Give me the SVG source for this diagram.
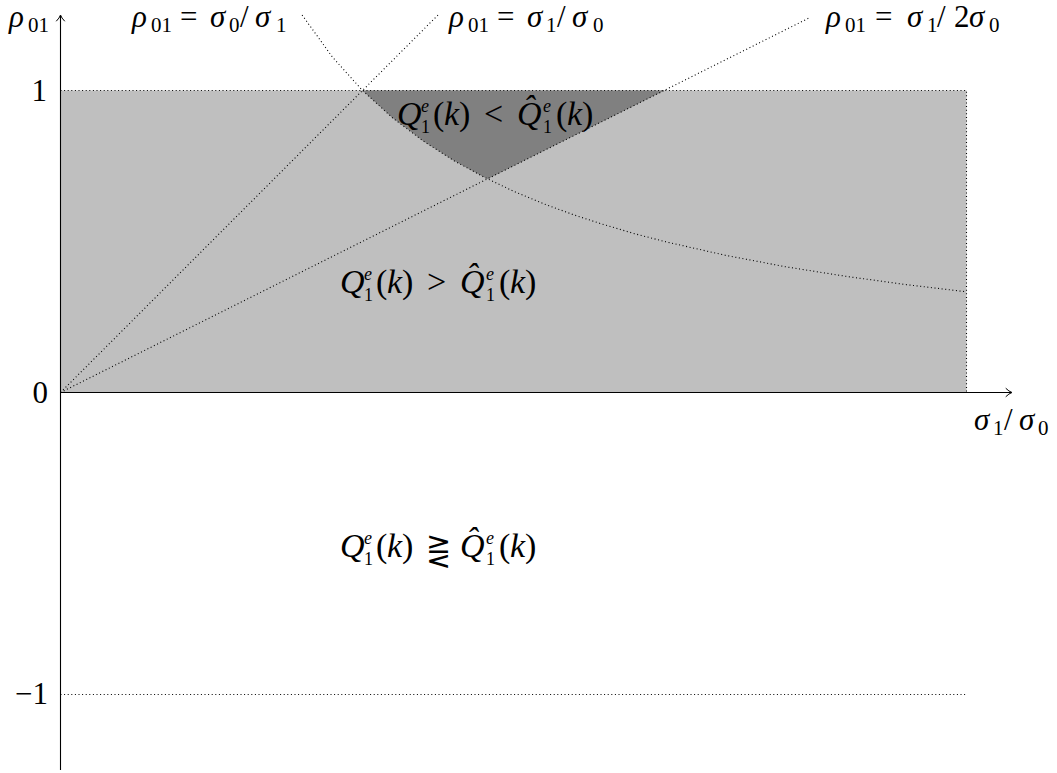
<svg xmlns="http://www.w3.org/2000/svg" width="1057" height="773" viewBox="0 0 1057 773">
<style>
.m{font-family:"Liberation Serif","DejaVu Serif",serif;font-size:31px;fill:#000}
.i{font-style:italic}
.s{font-size:21px}
.t{font-size:18px}
.q{font-size:34px}
.dot{fill:none;stroke:#000;stroke-width:1.1;stroke-dasharray:1 2.6}
.ax{fill:none;stroke:#000;stroke-width:1.1}
.ah{fill:none;stroke:#000;stroke-width:1;stroke-linecap:round;stroke-linejoin:round}
</style>
<rect width="1057" height="773" fill="#fff"/>
<g id="regions">
<rect id="light-region" x="60.5" y="90.5" width="906" height="302" fill="#bfbfbf"/>
<path id="dark-region" d="M362.5,90.5 L664.5,90.5 L487.6,179 L483.3,176.8 L453.1,160.2 L422.9,140.8 L392.7,118 Z" fill="#808080"/>
</g>
<g id="connectors">
<path class="dot" d="M60.5,90.5 H966.5 V392.5"/>
<path class="dot" d="M60.5,694.5 H966.5"/>
<path class="dot" d="M60.5,392.5 L438,15"/>
<path class="dot" d="M60.5,392.5 L809,18"/>
<path class="dot" d="M302.1,15 L332.3,56.9 L362.5,90.5 L392.7,118 L422.9,140.8 L453.1,160.2 L483.3,176.8 L513.5,191.2 L543.7,203.75 L573.9,214.9 L604.1,224.7 L634.3,233.6 L664.5,241.5 L724.9,255.2 L785.3,266.7 L845.7,276.3 L906.1,284.6 L966.5,291.8"/>
<path id="x-axis" class="ax" d="M60.5,392.5 H1011"/>
<path class="ah" d="M1006,388.5 Q1009,391.5 1012,392.5 Q1009,393.5 1006,396.5"/>
<path id="y-axis" class="ax" d="M60.5,770 V16"/>
<path class="ah" d="M56.5,21 Q59.5,18 60.5,15 Q61.5,18 64.5,21"/>
</g>
<g id="axis-labels">
<text class="m"><tspan class="i" x="9" y="27">ρ</tspan><tspan class="s" x="28" y="32">01</tspan></text>
<text class="m" x="47" y="101" text-anchor="end">1</text>
<text class="m" x="48" y="403" text-anchor="end">0</text>
<text class="m" x="48" y="704" text-anchor="end">−1</text>
<text class="m"><tspan class="i" x="974" y="430">σ</tspan><tspan class="s" x="993" y="435">1</tspan><tspan x="1004" y="430">/</tspan><tspan class="i" x="1019" y="430">σ</tspan><tspan class="s" x="1038" y="435">0</tspan></text>
</g>
<g id="curve-labels">
<text class="m"><tspan class="i" x="132" y="27">ρ</tspan><tspan class="s" x="151" y="32">01</tspan><tspan x="180" y="27">=</tspan><tspan class="i" x="210" y="27">σ</tspan><tspan class="s" x="229" y="32">0</tspan><tspan x="240" y="27">/</tspan><tspan class="i" x="255" y="27">σ</tspan><tspan class="s" x="276" y="32">1</tspan></text>
<text class="m"><tspan class="i" x="449" y="27">ρ</tspan><tspan class="s" x="468" y="32">01</tspan><tspan x="497" y="27">=</tspan><tspan class="i" x="527" y="27">σ</tspan><tspan class="s" x="546" y="32">1</tspan><tspan x="557" y="27">/</tspan><tspan class="i" x="572" y="27">σ</tspan><tspan class="s" x="593" y="32">0</tspan></text>
<text class="m"><tspan class="i" x="826" y="27">ρ</tspan><tspan class="s" x="845" y="32">01</tspan><tspan x="875" y="27">=</tspan><tspan class="i" x="907" y="27">σ</tspan><tspan class="s" x="927" y="32">1</tspan><tspan x="937" y="27">/</tspan><tspan x="954" y="27">2</tspan><tspan class="i" x="969" y="27">σ</tspan><tspan class="s" x="989" y="32">0</tspan></text>
</g>
<g id="region-labels">
<text class="m q"><tspan class="i" x="397" y="125">Q</tspan><tspan class="t i" x="421" y="112">e</tspan><tspan class="t" x="421" y="133">1</tspan><tspan x="433" y="125">(</tspan><tspan class="i" x="444" y="125">k</tspan><tspan x="459" y="125">)</tspan><tspan x="484" y="125">&lt;</tspan><tspan class="i" x="517" y="125">Q̂</tspan><tspan class="t i" x="543" y="112">e</tspan><tspan class="t" x="543" y="133">1</tspan><tspan x="556" y="125">(</tspan><tspan class="i" x="567" y="125">k</tspan><tspan x="582" y="125">)</tspan></text>
<text class="m q"><tspan class="i" x="340" y="293">Q</tspan><tspan class="t i" x="364" y="280">e</tspan><tspan class="t" x="364" y="301">1</tspan><tspan x="376" y="293">(</tspan><tspan class="i" x="387" y="293">k</tspan><tspan x="402" y="293">)</tspan><tspan x="427" y="293">&gt;</tspan><tspan class="i" x="460" y="293">Q̂</tspan><tspan class="t i" x="486" y="280">e</tspan><tspan class="t" x="486" y="301">1</tspan><tspan x="499" y="293">(</tspan><tspan class="i" x="510" y="293">k</tspan><tspan x="525" y="293">)</tspan></text>
<text class="m q"><tspan class="i" x="340" y="557">Q</tspan><tspan class="t i" x="364" y="544">e</tspan><tspan class="t" x="364" y="565">1</tspan><tspan x="376" y="557">(</tspan><tspan class="i" x="387" y="557">k</tspan><tspan x="402" y="557">)</tspan><tspan x="426" y="561" style="font-family:'DejaVu Serif','DejaVu Sans',serif;font-size:30px">⋛</tspan><tspan class="i" x="460" y="557">Q̂</tspan><tspan class="t i" x="486" y="544">e</tspan><tspan class="t" x="486" y="565">1</tspan><tspan x="499" y="557">(</tspan><tspan class="i" x="510" y="557">k</tspan><tspan x="525" y="557">)</tspan></text>
</g>
</svg>
